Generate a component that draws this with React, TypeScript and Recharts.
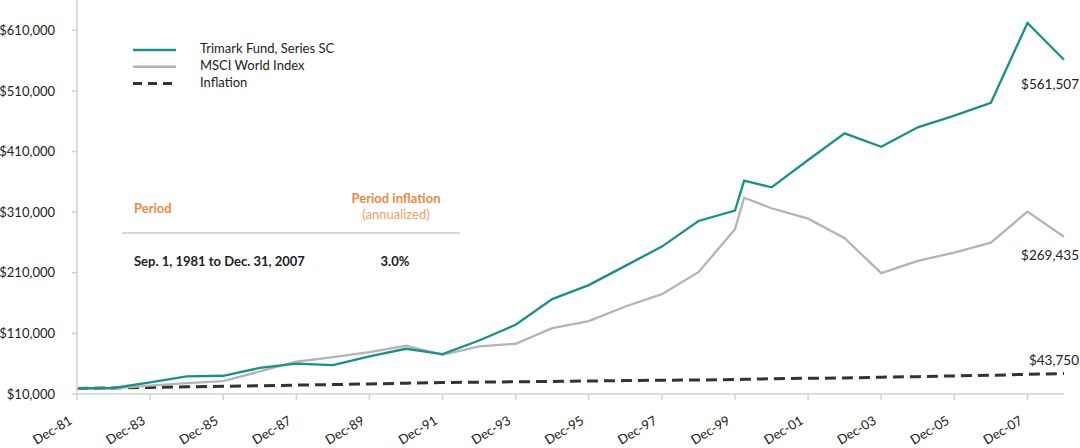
import React from 'react';
import { LineChart, Line, XAxis, YAxis } from 'recharts';

// Dec of each year, plus one extra point in Mar-00 (market peak)
const years = [
  1981, 1982, 1983, 1984, 1985, 1986, 1987, 1988, 1989, 1990, 1991, 1992, 1993,
  1994, 1995, 1996, 1997, 1998, 1999, 1999.25, 2000, 2001, 2002, 2003, 2004,
  2005, 2006, 2007, 2008,
];

const trimark = [
  19200, 19900, 29100, 39000, 40100, 53000, 60000, 57500, 72000, 84600, 75900,
  98300, 124200, 166500, 189600, 221400, 253200, 295500, 312500, 361900, 351000,
  396000, 440000, 417900, 449900, 469300, 490400, 622200, 561507,
];

const msci = [
  19200, 19200, 23700, 28100, 31400, 47200, 63200, 71000, 79200, 89600, 74700,
  88400, 92900, 118700, 130300, 154300, 174700, 211000, 281800, 333900, 316400,
  299300, 267000, 209300, 229600, 243300, 259800, 310800, 269435,
];

const inflation = [
  19000, 20000, 20900, 21800, 22600, 23600, 24600, 25600, 26600, 27900, 28900,
  29500, 30200, 30700, 31400, 32100, 32700, 33100, 33900, 34300, 35100, 36000,
  36400, 37800, 38600, 39900, 40800, 42500, 43750,
];

const xTicks = [
  1981, 1983, 1985, 1987, 1989, 1991, 1993, 1995, 1997, 1999, 2001, 2003, 2005,
  2007,
];
const yTicks = [10000, 110000, 210000, 310000, 410000, 510000, 610000];

const legendItems = [
  { name: 'Trimark Fund, Series SC', color: '#17918a', dash: undefined, width: 2.4 },
  { name: 'MSCI World Index', color: '#b4b4b4', dash: undefined, width: 2.4 },
  { name: 'Inflation', color: '#333333', dash: '9 6', width: 3 },
];

const periodText = 'Sep. 1, 1981 to Dec. 31, 2007';
const periodInflation = '3.0%';

const data = years.map((year, i) => ({
  year,
  trimark: trimark[i],
  msci: msci[i],
  inflation: inflation[i],
}));

const FONT = 'Lato, "Open Sans", sans-serif';
const ORANGE = '#ee8a3c';
const AXIS = '#d3d3c6';

const money = (v: number) => `$${v.toLocaleString('en-US')}`;
const decLabel = (v: number) => `Dec-${String(v).slice(2)}`;

function XTick({ x, y, payload }: any) {
  const tx = x - 4;
  const ty = y + 21;
  return (
    <text
      x={tx}
      y={ty}
      textAnchor="end"
      transform={`rotate(-31 ${tx} ${ty})`}
      fill="#222"
      fontSize={13}
      fontFamily={FONT}
    >
      {decLabel(payload.value)}
    </text>
  );
}

const endLabel = (dx: number, dy: number) => (props: any) => {
  const { x, y, index, value } = props;
  if (index !== years.length - 1) return <g key={`e-${index}`} />;
  return (
    <text
      key={`e-${index}`}
      x={x + dx}
      y={y + dy}
      textAnchor="end"
      dominantBaseline="middle"
      fill="#222"
      fontSize={13.5}
      fontFamily={FONT}
    >
      {money(value)}
    </text>
  );
};

function ChartLegend() {
  return (
    <svg
      width={260}
      height={60}
      style={{ position: 'absolute', left: 120, top: 36 }}
    >
      {legendItems.map((item, i) => (
        <g key={item.name} transform={`translate(0 ${14 + i * 16.7})`}>
          <line
            x1={13}
            x2={56}
            y1={0}
            y2={0}
            stroke={item.color}
            strokeWidth={item.width}
            strokeDasharray={item.dash}
          />
          <text
            x={80}
            y={0}
            dominantBaseline="middle"
            fontSize={13}
            fontFamily={FONT}
            fill="#222"
          >
            {item.name}
          </text>
        </g>
      ))}
    </svg>
  );
}

function PeriodTable() {
  const base: React.CSSProperties = {
    position: 'absolute',
    fontFamily: FONT,
    fontSize: 13,
    lineHeight: '16px',
    whiteSpace: 'nowrap',
  };
  return (
    <>
      <div style={{ ...base, left: 134, top: 200, color: ORANGE, fontWeight: 700 }}>
        Period
      </div>
      <div
        style={{ ...base, left: 326, width: 140, top: 190, textAlign: 'center', color: ORANGE, fontWeight: 700 }}
      >
        Period inflation
      </div>
      <div
        style={{ ...base, left: 326, width: 140, top: 206, textAlign: 'center', color: '#f2a065' }}
      >
        (annualized)
      </div>
      <div
        style={{ position: 'absolute', left: 122, top: 232, width: 338, height: 2, background: '#d8d8d8' }}
      />
      <div style={{ ...base, left: 134, top: 253, color: '#222', fontWeight: 700 }}>
        {periodText}
      </div>
      <div
        style={{ ...base, left: 325, width: 140, top: 253, textAlign: 'center', color: '#222', fontWeight: 700 }}
      >
        {periodInflation}
      </div>
    </>
  );
}

export default function App() {
  return (
    <div
      style={{
        position: 'absolute',
        left: 0,
        top: 0,
        width: 1080,
        height: 448,
        background: '#fff',
        fontFamily: FONT,
      }}
    >
      <LineChart
        width={1080}
        height={448}
        data={data}
        margin={{ top: 0, right: 16, bottom: 0, left: 0 }}
      >
        <XAxis
          dataKey="year"
          type="number"
          domain={[1981, 2008]}
          ticks={xTicks}
          interval={0}
          tick={<XTick />}
          tickSize={6}
          height={54}
          stroke={AXIS}
          strokeWidth={1.5}
        />
        <YAxis
          domain={[10000, 660000]}
          ticks={yTicks}
          interval={0}
          width={77}
          tickSize={5}
          tickMargin={17}
          tickFormatter={money}
          tick={{ fill: '#222', fontSize: 13, fontFamily: FONT }}
          stroke={AXIS}
          strokeWidth={1.5}
        />
        <Line
          dataKey="inflation"
          stroke="#333333"
          strokeWidth={3}
          strokeDasharray="11 6"
          dot={false}
          isAnimationActive={false}
          label={endLabel(15, -12)}
        />
        <Line
          dataKey="msci"
          stroke="#b4b4b4"
          strokeWidth={2.3}
          dot={false}
          isAnimationActive={false}
          label={endLabel(15, 20)}
        />
        <Line
          dataKey="trimark"
          stroke="#17918a"
          strokeWidth={2.3}
          dot={false}
          isAnimationActive={false}
          label={endLabel(15, 26)}
        />
      </LineChart>
      <ChartLegend />
      <PeriodTable />
    </div>
  );
}
